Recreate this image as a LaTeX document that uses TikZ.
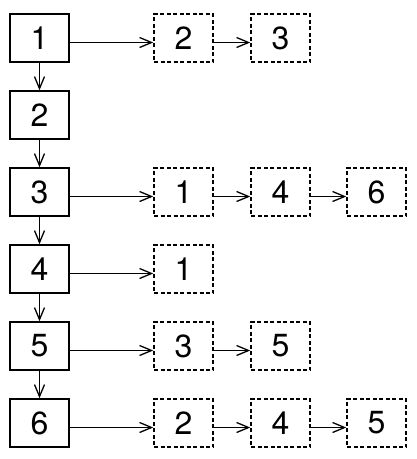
\documentclass[tikz,border=0pt]{standalone}
\usepackage{fontspec}
\setmainfont{TeX Gyre Heros}
\usetikzlibrary{arrows.meta}
\begin{document}
\begin{tikzpicture}[x=1pt,y=-1pt,
  mainbox/.style={draw,line width=1.5pt,minimum width=59pt,minimum height=48pt,inner sep=0pt,font=\fontsize{32}{32}\selectfont},
  listbox/.style={mainbox,dashed,dash pattern=on 4pt off 2.5pt},
  arr/.style={line width=1.4pt,-{Straight Barb[length=12pt,width=10pt,line width=1.3pt]}}]
\useasboundingbox (0,0) rectangle (417,459);
\foreach \i/\y in {1/38,2/115,3/192,4/269,5/346,6/423}{
  \node[mainbox] (m\i) at (39.5,\y) {\i};
}
\foreach \a/\b in {1/2,2/3,3/4,4/5,5/6}{
  \draw[arr] (m\a) -- (m\b);
}
% row 1
\node[listbox] (r1a) at (183.5,38) {2};
\node[listbox] (r1b) at (280.5,38) {3};
% row 3
\node[listbox] (r3a) at (183.5,192) {1};
\node[listbox] (r3b) at (280.5,192) {4};
\node[listbox] (r3c) at (376.5,192) {6};
% row 4
\node[listbox] (r4a) at (183.5,269) {1};
% row 5
\node[listbox] (r5a) at (183.5,346) {3};
\node[listbox] (r5b) at (280.5,346) {5};
% row 6
\node[listbox] (r6a) at (183.5,423) {2};
\node[listbox] (r6b) at (280.5,423) {4};
\node[listbox] (r6c) at (376.5,423) {5};
\foreach \a/\b in {m1/r1a,r1a/r1b,m3/r3a,r3a/r3b,r3b/r3c,m4/r4a,m5/r5a,r5a/r5b,m6/r6a,r6a/r6b,r6b/r6c}{
  \draw[arr] ([yshift=-4.5pt]\a.east) -- ([yshift=-4.5pt]\b.west);
}
\end{tikzpicture}
\end{document}
